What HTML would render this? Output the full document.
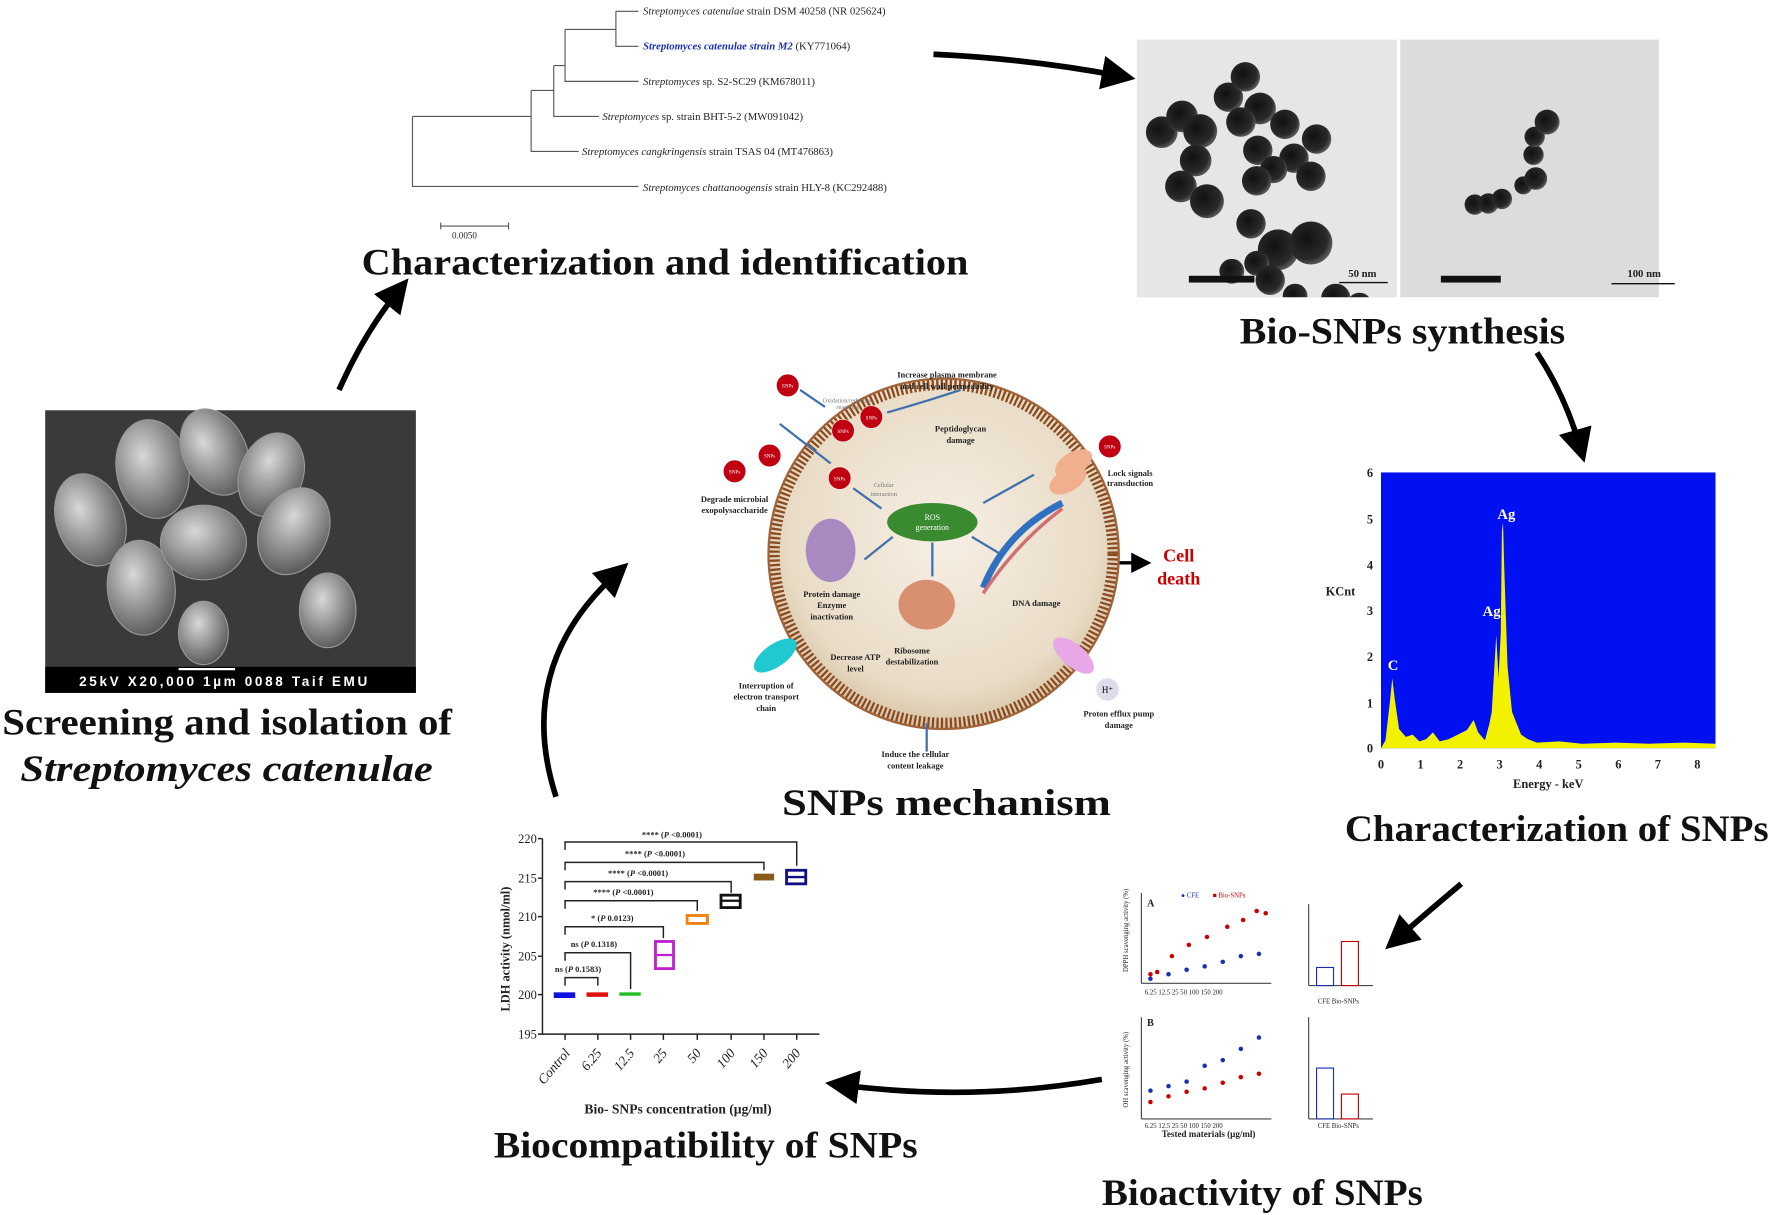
<!DOCTYPE html>
<html><head><meta charset="utf-8"><style>
html,body{margin:0;padding:0;background:#fff;}
svg{display:block;}
.t{font-family:"Liberation Serif",serif;font-weight:bold;fill:#111;}
.s{font-family:"Liberation Serif",serif;fill:#222;}
</style></head><body>
<svg width="1772" height="1215" viewBox="0 0 1568 1075" preserveAspectRatio="none" xmlns="http://www.w3.org/2000/svg">
<defs>
<marker id="ah" markerWidth="6" markerHeight="6" refX="3" refY="3" orient="auto" markerUnits="strokeWidth"><path d="M0,0 L6,3 L0,6 Z" fill="#000"/></marker>
<radialGradient id="cell" cx="0.5" cy="0.45" r="0.55"><stop offset="0" stop-color="#f6efe4"/><stop offset="0.8" stop-color="#e9dcc7"/><stop offset="1" stop-color="#d8c4a6"/></radialGradient>
<radialGradient id="sp" cx="0.4" cy="0.35" r="0.7"><stop offset="0" stop-color="#d8d8d8"/><stop offset="1" stop-color="#555"/></radialGradient>
<radialGradient id="np" cx="0.4" cy="0.4" r="0.6"><stop offset="0" stop-color="#111"/><stop offset="0.8" stop-color="#2a2a2a"/><stop offset="1" stop-color="#555"/></radialGradient>
<clipPath id="tem1"><rect x="1006" y="35" width="230" height="228"/></clipPath>
<clipPath id="tem2"><rect x="1239" y="35" width="229" height="228"/></clipPath>
</defs>

<!-- Phylogenetic tree -->
<g stroke="#555" stroke-width="1" fill="none">
<path d="M365,103 V165 H565"/>
<path d="M365,103 H470"/>
<path d="M470,80 V134 H512"/>
<path d="M470,80 H490"/>
<path d="M490,58 V103 H530"/>
<path d="M490,58 H500"/>
<path d="M500,26 V72 H565"/>
<path d="M500,26 H545"/>
<path d="M545,10 V41 H565"/>
<path d="M545,10 H565"/>
<path d="M390,200 H450 M390,197 V203 M450,197 V203"/>
</g>
<g class="s" font-size="9.5">
<text x="569" y="13"><tspan font-style="italic">Streptomyces catenulae</tspan> strain DSM 40258 (NR 025624)</text>
<text x="569" y="44" fill="#1a2fb0" font-weight="bold"><tspan font-style="italic">Streptomyces catenulae strain M2</tspan><tspan fill="#222" font-weight="normal"> (KY771064)</tspan></text>
<text x="569" y="75"><tspan font-style="italic">Streptomyces</tspan> sp. S2-SC29 (KM678011)</text>
<text x="533" y="106"><tspan font-style="italic">Streptomyces</tspan> sp. strain BHT-5-2 (MW091042)</text>
<text x="515" y="137"><tspan font-style="italic">Streptomyces cangkringensis</tspan> strain TSAS 04 (MT476863)</text>
<text x="569" y="169"><tspan font-style="italic">Streptomyces chattanoogensis</tspan> strain HLY-8 (KC292488)</text>
<text x="400" y="211" font-size="8">0.0050</text>
</g>
<text class="t" x="320" y="243" font-size="33" textLength="537" lengthAdjust="spacingAndGlyphs">Characterization and identification</text>

<!-- arrows -->
<g stroke="#000" stroke-width="5" fill="none" marker-end="url(#ah)">
<path d="M826,48 Q910,52 990,67"/>
<path d="M1360,312 Q1385,350 1398,395"/>
<path d="M1293,782 Q1262,808 1237,830"/>
<path d="M975,955 Q860,975 745,960"/>
<path d="M492,705 Q455,590 545,508"/>
<path d="M300,345 Q322,295 352,258"/>
<path d="M990,498 H1010" stroke-width="3"/>
</g>

<!-- TEM images -->
<rect x="1006" y="35" width="230" height="228" fill="#e6e6e6"/>
<rect x="1239" y="35" width="229" height="228" fill="#dcdcdc"/>
<g fill="url(#np)" clip-path="url(#tem1)">
<circle cx="1028" cy="117" r="14"/><circle cx="1046" cy="103" r="14"/><circle cx="1062" cy="116" r="15"/><circle cx="1058" cy="142" r="14"/><circle cx="1045" cy="165" r="14"/><circle cx="1068" cy="178" r="15"/>
<circle cx="1087" cy="86" r="13"/><circle cx="1102" cy="68" r="13"/><circle cx="1115" cy="96" r="14"/><circle cx="1098" cy="108" r="13"/><circle cx="1113" cy="133" r="13"/><circle cx="1137" cy="110" r="13"/><circle cx="1145" cy="140" r="13"/><circle cx="1127" cy="150" r="12"/><circle cx="1112" cy="160" r="13"/><circle cx="1165" cy="123" r="13"/><circle cx="1160" cy="156" r="13"/>
<circle cx="1107" cy="198" r="13"/><circle cx="1131" cy="221" r="18"/><circle cx="1160" cy="215" r="19"/><circle cx="1112" cy="233" r="11"/><circle cx="1124" cy="248" r="13"/><circle cx="1146" cy="262" r="11"/><circle cx="1182" cy="264" r="13"/><circle cx="1203" cy="270" r="11"/><circle cx="1090" cy="240" r="11"/>
</g>
<g fill="url(#np)" clip-path="url(#tem2)">
<circle cx="1305" cy="181" r="9"/><circle cx="1317" cy="180" r="9"/><circle cx="1329" cy="176" r="9"/><circle cx="1348" cy="164" r="8"/><circle cx="1359" cy="158" r="10"/><circle cx="1357" cy="137" r="9"/><circle cx="1358" cy="121" r="9"/><circle cx="1369" cy="108" r="11"/>
</g>
<g stroke="#111" stroke-width="1.2"><line x1="1185" y1="250" x2="1228" y2="250"/><line x1="1426" y1="251" x2="1482" y2="251"/></g>
<g class="s" font-weight="bold" font-size="9.5"><text x="1193" y="245">50 nm</text><text x="1440" y="245">100 nm</text></g>
<rect x="1052" y="244" width="58" height="6" fill="#111"/><rect x="1275" y="244" width="53" height="6" fill="#111"/>
<text class="t" x="1097" y="304" font-size="33" textLength="288" lengthAdjust="spacingAndGlyphs">Bio-SNPs synthesis</text>

<!-- EDX -->
<rect x="1222" y="418" width="296" height="244" fill="#0010f0"/>
<polygon fill="#f2f200" points="1222,662 1226,655 1230,620 1232,600 1234,617 1238,645 1244,652 1250,650 1256,656 1262,654 1268,648 1274,656 1282,654 1290,650 1298,646 1304,637 1308,648 1314,655 1318,640 1320,630 1324,562 1326,600 1328,560 1329,470 1330,462 1331,500 1334,590 1338,630 1342,640 1346,650 1352,654 1360,657 1380,656 1400,658 1430,657 1460,658 1490,657 1518,658 1518,662"/>
<g class="s" font-weight="bold" font-size="11">
<text x="1215" y="422" text-anchor="end">6</text><text x="1215" y="463" text-anchor="end">5</text><text x="1215" y="504" text-anchor="end">4</text><text x="1215" y="544" text-anchor="end">3</text><text x="1215" y="585" text-anchor="end">2</text><text x="1215" y="626" text-anchor="end">1</text><text x="1215" y="666" text-anchor="end">0</text>
<text x="1222" y="680" text-anchor="middle">0</text><text x="1257" y="680" text-anchor="middle">1</text><text x="1292" y="680" text-anchor="middle">2</text><text x="1327" y="680" text-anchor="middle">3</text><text x="1362" y="680" text-anchor="middle">4</text><text x="1397" y="680" text-anchor="middle">5</text><text x="1432" y="680" text-anchor="middle">6</text><text x="1467" y="680" text-anchor="middle">7</text><text x="1502" y="680" text-anchor="middle">8</text>
<text x="1173" y="527">KCnt</text><text x="1370" y="697" text-anchor="middle">Energy - keV</text>
</g>
<g class="s" font-weight="bold" font-size="13"><text x="1228" y="593" fill="#fff">C</text><text x="1312" y="545" fill="#fff">Ag</text><text x="1325" y="459" fill="#fff">Ag</text></g>
<text class="t" x="1190" y="744" font-size="33" textLength="375" lengthAdjust="spacingAndGlyphs">Characterization of SNPs</text>

<!-- Bioactivity -->
<g class="s" font-size="6">
<line x1="1010" y1="790" x2="1010" y2="870" stroke="#444"/><line x1="1010" y1="870" x2="1125" y2="870" stroke="#444"/>
<line x1="1010" y1="900" x2="1010" y2="990" stroke="#444"/><line x1="1010" y1="990" x2="1125" y2="990" stroke="#444"/>
<line x1="1158" y1="800" x2="1158" y2="872" stroke="#444"/><line x1="1158" y1="872" x2="1215" y2="872" stroke="#444"/>
<line x1="1158" y1="900" x2="1158" y2="990" stroke="#444"/><line x1="1158" y1="990" x2="1215" y2="990" stroke="#444"/>
<text x="1015" y="802" font-weight="bold" font-size="9">A</text><text x="1015" y="908" font-weight="bold" font-size="9">B</text>
<text x="1045" y="794" fill="#1a2fb0">● CFE</text><text x="1073" y="794" fill="#c00">■ Bio-SNPs</text>
<text x="1013" y="880" font-size="6">6.25  12.5   25   50  100  150  200</text>
<text x="1013" y="998" font-size="6">6.25  12.5   25   50  100  150  200</text>
<text x="1028" y="1006" font-size="8" font-weight="bold">Tested materials (µg/ml)</text>
<text x="1166" y="888" font-size="6">CFE  Bio-SNPs</text><text x="1166" y="998" font-size="6">CFE  Bio-SNPs</text>
<text font-size="6" transform="translate(998,860) rotate(-90)">DPPH scavenging activity (%)</text>
<text font-size="6" transform="translate(998,980) rotate(-90)">OH scavenging activity (%)</text>
</g>
<g fill="#c00"><circle cx="1018" cy="862" r="2"/><circle cx="1024" cy="860" r="2"/><circle cx="1037" cy="846" r="2"/><circle cx="1052" cy="836" r="2"/><circle cx="1068" cy="829" r="2"/><circle cx="1086" cy="820" r="2"/><circle cx="1100" cy="814" r="2"/><circle cx="1112" cy="806" r="2"/><circle cx="1120" cy="808" r="2"/>
<circle cx="1018" cy="975" r="2"/><circle cx="1034" cy="970" r="2"/><circle cx="1050" cy="966" r="2"/><circle cx="1066" cy="963" r="2"/><circle cx="1082" cy="958" r="2"/><circle cx="1098" cy="953" r="2"/><circle cx="1114" cy="950" r="2"/></g>
<g fill="#1a2fb0"><circle cx="1018" cy="866" r="2"/><circle cx="1034" cy="862" r="2"/><circle cx="1050" cy="858" r="2"/><circle cx="1066" cy="855" r="2"/><circle cx="1082" cy="851" r="2"/><circle cx="1098" cy="846" r="2"/><circle cx="1114" cy="844" r="2"/>
<circle cx="1018" cy="965" r="2"/><circle cx="1034" cy="961" r="2"/><circle cx="1050" cy="957" r="2"/><circle cx="1066" cy="943" r="2"/><circle cx="1082" cy="938" r="2"/><circle cx="1098" cy="928" r="2"/><circle cx="1114" cy="918" r="2"/></g>
<rect x="1165" y="856" width="15" height="16" fill="none" stroke="#1a2fb0"/><rect x="1187" y="833" width="15" height="39" fill="none" stroke="#c00"/>
<rect x="1165" y="945" width="15" height="45" fill="none" stroke="#1a2fb0"/><rect x="1187" y="968" width="15" height="22" fill="none" stroke="#c00"/>
<text class="t" x="975" y="1066" font-size="33" textLength="284" lengthAdjust="spacingAndGlyphs">Bioactivity of SNPs</text>

<!-- LDH chart -->
<g stroke="#222" stroke-width="1.3" fill="none">
<path d="M480,742 V915 H725"/>
<path d="M476,742 H480 M476,777 H480 M476,811 H480 M476,846 H480 M476,880 H480 M476,915 H480"/>
<path d="M500,915 V920 M529,915 V920 M558,915 V920 M587,915 V920 M617,915 V920 M647,915 V920 M676,915 V920 M705,915 V920"/>
<path d="M500,872 V865 H529 V872"/><path d="M500,850 V843 H558 V875"/><path d="M500,827 V820 H587 V830"/>
<path d="M500,804 V797 H617 V806"/><path d="M500,787 V780 H647 V790"/><path d="M500,770 V763 H676 V770"/><path d="M500,752 V745 H705 V766"/>
</g>
<g class="s" font-size="11"><text x="475" y="746" text-anchor="end">220</text><text x="475" y="781" text-anchor="end">215</text><text x="475" y="815" text-anchor="end">210</text><text x="475" y="850" text-anchor="end">205</text><text x="475" y="884" text-anchor="end">200</text><text x="475" y="919" text-anchor="end">195</text></g>
<g class="s" font-size="7.5" font-weight="bold"><text x="491" y="860">ns (<tspan font-style="italic">P</tspan> 0.1583)</text><text x="505" y="838">ns (<tspan font-style="italic">P</tspan> 0.1318)</text><text x="523" y="815">* (<tspan font-style="italic">P</tspan> 0.0123)</text><text x="525" y="792">**** (<tspan font-style="italic">P</tspan> &lt;0.0001)</text><text x="538" y="775">**** (<tspan font-style="italic">P</tspan> &lt;0.0001)</text><text x="553" y="758">**** (<tspan font-style="italic">P</tspan> &lt;0.0001)</text><text x="568" y="741">**** (<tspan font-style="italic">P</tspan> &lt;0.0001)</text></g>
<rect x="490" y="878" width="19" height="5" fill="#1010e0"/><rect x="519" y="878" width="19" height="4" fill="#e01010"/><rect x="548" y="878" width="19" height="3" fill="#20c020"/>
<rect x="580" y="833" width="16" height="24" fill="none" stroke="#c020d0" stroke-width="2.5"/><line x1="580" y1="845" x2="596" y2="845" stroke="#c020d0" stroke-width="2"/>
<rect x="608" y="810" width="18" height="7" fill="none" stroke="#f08010" stroke-width="2.5"/>
<rect x="638" y="792" width="17" height="11" fill="none" stroke="#111" stroke-width="2.5"/><line x1="638" y1="797" x2="655" y2="797" stroke="#111" stroke-width="2"/>
<rect x="667" y="773" width="18" height="6" fill="#8a5a1a"/>
<rect x="696" y="770" width="17" height="12" fill="none" stroke="#101080" stroke-width="2.5"/><line x1="696" y1="776" x2="713" y2="776" stroke="#101080" stroke-width="2"/>
<text class="s" font-weight="bold" font-size="11" transform="translate(451,895) rotate(-90)">LDH activity (nmol/ml)</text>
<g class="s" font-size="12" font-style="italic">
<text transform="translate(505,932) rotate(-50)" text-anchor="end">Control</text><text transform="translate(533,932) rotate(-50)" text-anchor="end">6.25</text><text transform="translate(562,932) rotate(-50)" text-anchor="end">12.5</text><text transform="translate(591,932) rotate(-50)" text-anchor="end">25</text><text transform="translate(621,932) rotate(-50)" text-anchor="end">50</text><text transform="translate(651,932) rotate(-50)" text-anchor="end">100</text><text transform="translate(680,932) rotate(-50)" text-anchor="end">150</text><text transform="translate(709,932) rotate(-50)" text-anchor="end">200</text>
</g>
<text class="s" x="600" y="985" font-size="12" font-weight="bold" text-anchor="middle">Bio- SNPs concentration (µg/ml)</text>
<text class="t" x="437" y="1024" font-size="33" textLength="375" lengthAdjust="spacingAndGlyphs">Biocompatibility of SNPs</text>

<!-- SEM -->
<rect x="40" y="363" width="328" height="250" fill="#3a3a3a"/>
<g fill="url(#sp)" stroke="#999" stroke-width="1">
<ellipse cx="80" cy="460" rx="30" ry="42" transform="rotate(-20 80 460)"/>
<ellipse cx="135" cy="415" rx="32" ry="44" transform="rotate(-10 135 415)"/>
<ellipse cx="190" cy="400" rx="28" ry="40" transform="rotate(-25 190 400)"/>
<ellipse cx="240" cy="420" rx="28" ry="38" transform="rotate(20 240 420)"/>
<ellipse cx="125" cy="520" rx="30" ry="42" transform="rotate(-5 125 520)"/>
<ellipse cx="180" cy="480" rx="38" ry="33"/>
<ellipse cx="260" cy="470" rx="30" ry="40" transform="rotate(25 260 470)"/>
<ellipse cx="290" cy="540" rx="25" ry="33"/>
<ellipse cx="180" cy="560" rx="22" ry="28"/>
</g>
<rect x="40" y="590" width="328" height="23" fill="#000"/>
<line x1="158" y1="592" x2="208" y2="592" stroke="#fff" stroke-width="2"/>
<text x="70" y="607" font-family="Liberation Sans,sans-serif" font-weight="bold" font-size="12" fill="#fff" textLength="255">25kV   X20,000    1µm    0088   Taif EMU</text>
<text class="t" x="2" y="650" font-size="33" textLength="398" lengthAdjust="spacingAndGlyphs">Screening and isolation of</text>
<text class="t" x="18" y="691" font-size="33" font-style="italic" textLength="365" lengthAdjust="spacingAndGlyphs">Streptomyces catenulae</text>

<!-- Cell mechanism -->
<circle cx="835" cy="490" r="155" fill="url(#cell)"/>
<circle cx="835" cy="490" r="150" fill="none" stroke="#8a4a20" stroke-width="10" stroke-dasharray="2 2"/>
<circle cx="835" cy="490" r="155" fill="none" stroke="#a0633a" stroke-width="2"/>
<ellipse cx="825" cy="462" rx="40" ry="17" fill="#3a8a30"/>
<text x="825" y="460" font-family="Liberation Serif,serif" font-size="7" fill="#fff" text-anchor="middle">ROS</text>
<text x="825" y="469" font-family="Liberation Serif,serif" font-size="7" fill="#fff" text-anchor="middle">generation</text>
<ellipse cx="735" cy="487" rx="22" ry="28" fill="#a98ac0"/>
<ellipse cx="820" cy="535" rx="25" ry="22" fill="#d89070"/>
<path d="M870,520 Q890,470 940,445" stroke="#3070c0" stroke-width="6" fill="none"/>
<path d="M870,525 Q900,480 940,450" stroke="#d07070" stroke-width="3" fill="none"/>
<ellipse cx="950" cy="410" rx="18" ry="10" fill="#f0b090" transform="rotate(-30 950 410)"/>
<ellipse cx="945" cy="425" rx="18" ry="10" fill="#f0b090" transform="rotate(-30 945 425)"/>
<ellipse cx="686" cy="580" rx="22" ry="10" fill="#20c8d0" transform="rotate(-35 686 580)"/>
<ellipse cx="950" cy="580" rx="22" ry="10" fill="#e8a8e8" transform="rotate(40 950 580)"/>
<circle cx="980" cy="610" r="10" fill="#dde"/>
<text x="980" y="613" font-size="8" text-anchor="middle" font-family="Liberation Serif,serif">H⁺</text>
<g fill="#c00010" stroke="#fff" stroke-width="0.5">
<circle cx="697" cy="341" r="10"/><circle cx="681" cy="403" r="10"/><circle cx="650" cy="417" r="10"/><circle cx="746" cy="381" r="10"/><circle cx="771" cy="369" r="10"/><circle cx="743" cy="423" r="10"/><circle cx="982" cy="395" r="10"/>
</g>
<g font-family="Liberation Serif,serif" font-size="4.5" fill="#fff" text-anchor="middle">
<text x="697" y="343">SNPs</text><text x="681" y="405">SNPs</text><text x="650" y="419">SNPs</text><text x="746" y="383">SNPs</text><text x="771" y="371">SNPs</text><text x="743" y="425">SNPs</text><text x="982" y="397">SNPs</text>
</g>
<g stroke="#4070b0" stroke-width="2" fill="none"><path d="M708,345 L730,360"/><path d="M690,375 L735,410"/><path d="M755,432 L780,450"/><path d="M790,475 L765,495"/><path d="M825,480 V510"/><path d="M860,475 L885,490"/><path d="M870,445 L915,420"/><path d="M820,640 V665"/><path d="M785,365 Q820,355 850,345"/></g>
<g class="s" font-size="7.5" font-weight="bold" text-anchor="middle">
<text x="838" y="334">Increase plasma membrane</text><text x="838" y="344">and cell wall permeability</text>
<text x="850" y="382">Peptidoglycan</text><text x="850" y="392">damage</text>
<text x="1000" y="421">Lock signals</text><text x="1000" y="430">transduction</text>
<text x="650" y="444">Degrade microbial</text><text x="650" y="454">exopolysaccharide</text>
<text x="736" y="528">Protein damage</text><text x="736" y="538">Enzyme</text><text x="736" y="548">inactivation</text>
<text x="917" y="536">DNA damage</text>
<text x="757" y="584">Decrease ATP</text><text x="757" y="594">level</text>
<text x="807" y="578">Ribosome</text><text x="807" y="588">destabilization</text>
<text x="678" y="609">Interruption of</text><text x="678" y="619">electron transport</text><text x="678" y="629">chain</text>
<text x="990" y="634">Proton efflux pump</text><text x="990" y="644">damage</text>
<text x="810" y="670">Induce the cellular</text><text x="810" y="680">content leakage</text>
<text x="750" y="356" font-weight="normal" font-size="5.5" fill="#777">Oxidation/reduction</text><text x="750" y="362" font-weight="normal" font-size="5.5" fill="#777">reactions</text>
<text x="782" y="431" font-weight="normal" font-size="5.5" fill="#777">Cellular</text><text x="782" y="439" font-weight="normal" font-size="5.5" fill="#777">interaction</text>
</g>
<text x="1043" y="497" font-family="Liberation Serif,serif" font-weight="bold" font-size="16" fill="#c00" text-anchor="middle">Cell</text>
<text x="1043" y="517" font-family="Liberation Serif,serif" font-weight="bold" font-size="16" fill="#c00" text-anchor="middle">death</text>
<text class="t" x="692" y="721" font-size="33" textLength="291" lengthAdjust="spacingAndGlyphs">SNPs mechanism</text>
</svg>
</body></html>
